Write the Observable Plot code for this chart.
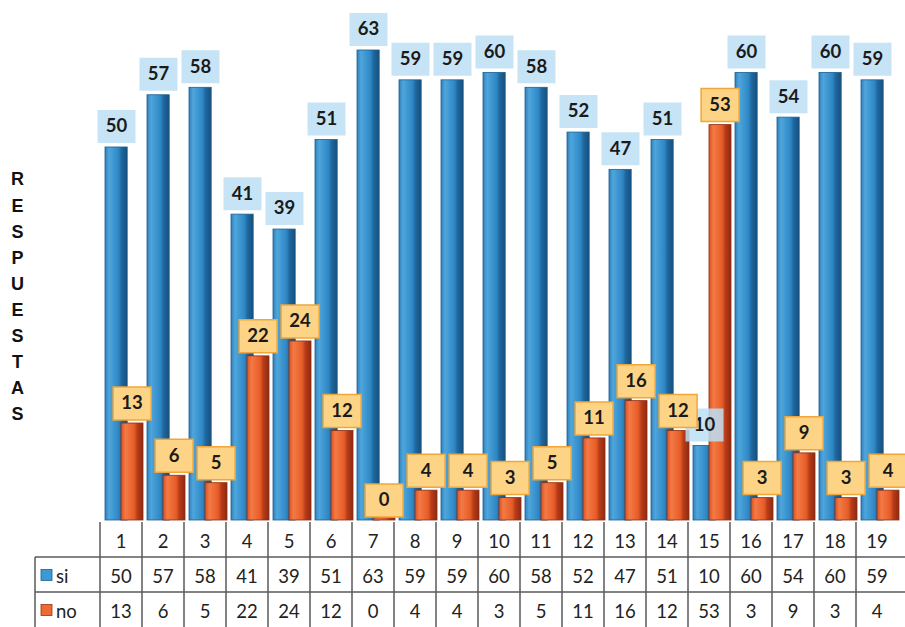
<!DOCTYPE html>
<html>
<head>
<meta charset="utf-8">
<script src="https://cdn.jsdelivr.net/npm/d3@7"></script>
<script src="https://cdn.jsdelivr.net/npm/@observablehq/plot@0.6"></script>
<style>
  html, body { margin: 0; padding: 0; background: #ffffff; }
  #wrap { position: relative; width: 905px; height: 627px; overflow: hidden; background: #fff; }
  #wrap svg { display: block; }
</style>
</head>
<body>
<div id="wrap"></div>
<script>
// ---- data ----
const categories = [1, 2, 3, 4, 5, 6, 7, 8, 9, 10, 11, 12, 13, 14, 15, 16, 17, 18, 19];
const si = [50, 57, 58, 41, 39, 51, 63, 59, 59, 60, 58, 52, 47, 51, 10, 60, 54, 60, 59];
const no = [13, 6, 5, 22, 24, 12, 0, 4, 4, 3, 5, 11, 16, 12, 53, 3, 9, 3, 4];
const seriesNames = ["si", "no"];
const axisTitle = "RESPUESTAS";

const rows = categories.map((c, i) => ({cat: c, si: si[i], no: no[i]}));

const W = 905, H = 522;
const boxSym = {draw(ctx) { ctx.rect(-19, -16.5, 38, 33); }};
const labelFont = "Lato, 'Open Sans', sans-serif";

const chart = Plot.plot({
  width: W,
  height: H,
  marginLeft: 92,
  marginRight: 0,
  marginTop: 50,
  marginBottom: 2,
  x: {type: "band", domain: categories, padding: 0, axis: null},
  y: {domain: [0, d3.max(si.concat(no))], axis: null},
  marks: [
    Plot.barY(rows, {x: "cat", y: "si", fill: "url(#gBlue)", stroke: "#1d5f90", strokeWidth: 0.8, insetLeft: 5, insetRight: 14.8}),
    Plot.barY(rows, {x: "cat", y1: 0, y2: d => Math.max(d.no, 0.3), fill: "url(#gOrange)", stroke: "#8f2c12", strokeWidth: 0.8, insetLeft: 21, insetRight: -1}),
    Plot.dot(rows, {x: "cat", y: "si", symbol: boxSym, r: 5, fill: "#bcdff4", fillOpacity: 0.85, stroke: "none", dx: -5, dy: -21, ariaLabel: "si-boxes"}),
    Plot.text(rows, {x: "cat", y: "si", text: d => String(d.si), dx: -5, dy: -21, fontSize: 18.5, fontWeight: "bold", fontFamily: labelFont, fill: "#1a1a1a"}),
    Plot.dot(rows, {x: "cat", y: "no", symbol: boxSym, r: 5, fill: "#fdd486", stroke: "#f0a63a", strokeWidth: 1.5, dx: 10.6, dy: -20, ariaLabel: "no-boxes"}),
    Plot.text(rows, {x: "cat", y: "no", text: d => String(d.no), dx: 10.6, dy: -20, fontSize: 18.5, fontWeight: "bold", fontFamily: labelFont, fill: "#1a1a1a"}),
    Plot.text([axisTitle.split("").join("\n")], {frameAnchor: "left", dx: -75, dy: 9, textAnchor: "middle", lineHeight: 1.45, fontSize: 18, fontWeight: "bold", fontFamily: "'Liberation Sans', Arial, sans-serif", fill: "#111"})
  ]
});

d3.select(chart).insert("defs", ":first-child").html(`
  <linearGradient id="gBlue" x1="0" x2="1" y1="0" y2="0">
    <stop offset="0" stop-color="#2f7fba"/>
    <stop offset="0.18" stop-color="#4ea6dc"/>
    <stop offset="0.6" stop-color="#2f88c6"/>
    <stop offset="0.75" stop-color="#1f679e"/>
    <stop offset="1" stop-color="#174f7c"/>
  </linearGradient>
  <linearGradient id="gOrange" x1="0" x2="1" y1="0" y2="0">
    <stop offset="0" stop-color="#d9521f"/>
    <stop offset="0.2" stop-color="#f47a45"/>
    <stop offset="0.6" stop-color="#e65c27"/>
    <stop offset="0.75" stop-color="#b63c19"/>
    <stop offset="1" stop-color="#8e2a10"/>
  </linearGradient>
`);
d3.select(chart).selectAll('g[aria-label="si-boxes"]').style("filter", "drop-shadow(3px 3px 3px rgba(0,0,0,0.18))");

const wrap = document.getElementById("wrap");
wrap.appendChild(chart);

// ---- data table below the chart, aligned with the chart's x scale ----
const xs = chart.scale("x");
const bw = xs.bandwidth;
const left0 = xs.apply(categories[0]);
const rowH = 35;
const legX = 35;
const tbl = d3.create("svg").attr("width", W).attr("height", 627 - H)
  .style("font-family", "Lato, 'Open Sans', sans-serif");
const lineColor = "#5a5a5a";
const tableRows = [
  {key: "cat", label: null, values: categories},
  {key: "si", label: seriesNames[0], values: si, color: "#3b9ad6", edge: "#1d5f90"},
  {key: "no", label: seriesNames[1], values: no, color: "#ee6a33", edge: "#9a3412"}
];
tableRows.forEach((r, ri) => {
  if (ri > 0) {
    tbl.append("line").attr("x1", legX).attr("x2", W).attr("y1", ri * rowH).attr("y2", ri * rowH)
      .attr("stroke", lineColor).attr("stroke-width", 1.5);
  }
});
categories.forEach(c => {
  const x0 = xs.apply(c);
  tbl.append("line").attr("x1", x0).attr("x2", x0).attr("y1", 0).attr("y2", 3 * rowH)
    .attr("stroke", lineColor).attr("stroke-width", 1.5);
});
tbl.append("line").attr("x1", legX).attr("x2", legX).attr("y1", rowH).attr("y2", 3 * rowH)
  .attr("stroke", lineColor).attr("stroke-width", 1.5);
tableRows.forEach((r, ri) => {
  r.values.forEach((v, i) => {
    tbl.append("text").attr("x", xs.apply(categories[i]) + bw / 2).attr("y", ri * rowH + rowH / 2 + 1)
      .attr("text-anchor", "middle").attr("dominant-baseline", "central")
      .attr("font-size", 18.5).attr("fill", "#222").text(String(v));
  });
  if (r.label) {
    tbl.append("rect").attr("x", legX + 6).attr("y", ri * rowH + rowH / 2 - 5).attr("width", 11).attr("height", 11)
      .attr("fill", r.color).attr("stroke", r.edge).attr("stroke-width", 0.8);
    tbl.append("text").attr("x", legX + 21).attr("y", ri * rowH + rowH / 2 + 1)
      .attr("dominant-baseline", "central").attr("font-size", 18.5).attr("fill", "#222").text(r.label);
  }
});
wrap.appendChild(tbl.node());
</script>
</body>
</html>
